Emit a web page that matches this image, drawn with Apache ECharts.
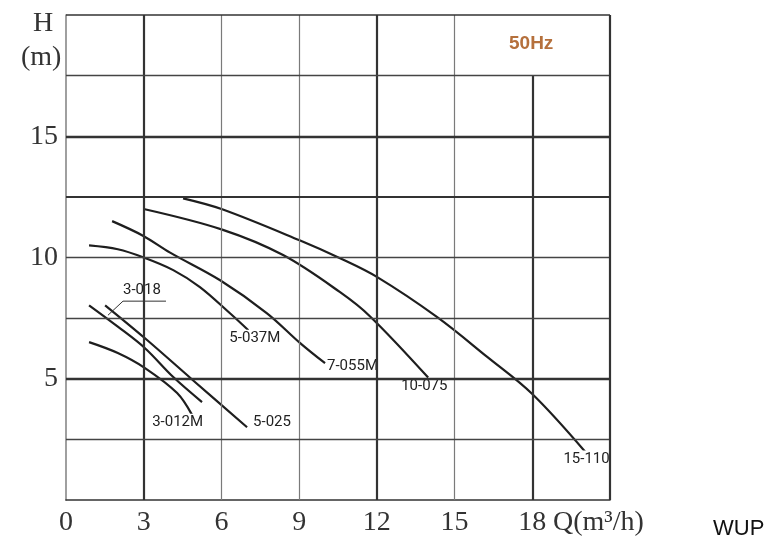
<!DOCTYPE html>
<html><head><meta charset="utf-8">
<script src="https://cdn.jsdelivr.net/npm/echarts@6/dist/echarts.min.js"></script>
<style>html,body{margin:0;padding:0;background:#fff}#c{width:772px;height:540px}</style>
</head><body><div id="c"></div>
<script>
// ---- data ----
const xTickLabels = ['0', '3', '6', '9', '12', '15', '18'];
const yTickLabels = ['5', '10', '15'];

const q_3012M = [0.89, 2.0, 3.05, 4.29, 4.87];
const h_3012M = [6.51, 6.06, 5.44, 4.41, 3.5];

const q_3018 = [0.89, 2.0, 3.05, 4.14, 5.25];
const h_3018 = [8.03, 7.15, 6.26, 5.07, 4.04];

const q_5025 = [1.51, 3.05, 4.9, 6.99];
const h_5025 = [8.03, 6.67, 4.94, 3.0];

const q_5037M = [0.89, 2.0, 3.0, 4.14, 5.17, 6.33, 7.04];
const h_5037M = [10.5, 10.34, 10.0, 9.48, 8.78, 7.7, 7.0];

const q_7055M = [1.78, 2.97, 4.02, 5.95, 7.76, 9.04, 10.0];
const h_7055M = [11.5, 10.9, 10.2, 9.06, 7.7, 6.47, 5.64];

const q_10075 = [3.0, 6.03, 8.38, 10.58, 11.74, 13.98];
const h_10075 = [12.0, 11.15, 10.1, 8.57, 7.57, 5.05];

const q_15110 = [4.52, 6.03, 9.04, 10.58, 12.0, 14.33, 16.26, 18.0, 20.05];
const h_15110 = [12.44, 11.99, 10.7, 9.97, 9.2, 7.54, 5.9, 4.37, 1.98];

// leader line for the "3-018" label
const q_leader = [1.62, 2.2, 3.86];
const h_leader = [7.62, 8.2, 8.2];

// ---- build ----
const zip = (a, b) => a.map((v, i) => [v, b[i]]);
const labelFont = { fontFamily: 'Roboto', fontSize: 15, color: '#222' };

function curve(name, q, h, offset) {
  return {
    type: 'line', name: name, data: zip(q, h), smooth: 0.35,
    symbol: 'none', silent: true, animation: false,
    lineStyle: { color: '#1e1e1e', width: 2.2 },
    endLabel: Object.assign({
      show: true, formatter: name, distance: 0, align: 'left', verticalAlign: 'middle',
      offset: offset, backgroundColor: '#fff', padding: [1, 1]
    }, labelFont)
  };
}

const gridStyles = {
  thinV: { color: '#7a7a7a', width: 1.2, type: 'solid' },
  thickV: { color: '#333', width: 2.2, type: 'solid' },
  thinH: { color: '#444', width: 1.3, type: 'solid' },
  midH: { color: '#333', width: 1.8, type: 'solid' },
  thickH: { color: '#333', width: 2.4, type: 'solid' },
  border: { color: '#333', width: 1.6, type: 'solid' },
  borderR: { color: '#333', width: 2.2, type: 'solid' }
};
const seg = (a, b, s) => [{ coord: a, lineStyle: s }, { coord: b }];
const gridLines = [
  seg([6, 0], [6, 20], gridStyles.thinV),
  seg([9, 0], [9, 20], gridStyles.thinV),
  seg([15, 0], [15, 20], gridStyles.thinV),
  seg([3, 0], [3, 20], gridStyles.thickV),
  seg([12, 0], [12, 20], gridStyles.thickV),
  seg([18, 0], [18, 17.5], gridStyles.thickV),
  seg([0, 2.5], [21, 2.5], gridStyles.thinH),
  seg([0, 7.5], [21, 7.5], gridStyles.thinH),
  seg([0, 10], [21, 10], gridStyles.thinH),
  seg([0, 17.5], [21, 17.5], gridStyles.thinH),
  seg([0, 12.5], [21, 12.5], gridStyles.midH),
  seg([0, 5], [21, 5], gridStyles.thickH),
  seg([0, 15], [21, 15], gridStyles.thickH),
  seg([0, 20], [21, 20], gridStyles.border),
  seg([21, 0], [21, 20], gridStyles.borderR)
];

const series = [
  {
    type: 'line', name: 'grid', data: [], silent: true, animation: false,
    markLine: { silent: true, symbol: ['none', 'none'], label: { show: false }, animation: false, data: gridLines }
  },
  curve('3-012M', q_3012M, h_3012M, [-41, 7]),
  curve('', q_3018, h_3018, [0, 0]),
  curve('5-025', q_5025, h_5025, [5, -5]),
  curve('5-037M', q_5037M, h_5037M, [-20, 8]),
  curve('7-055M', q_7055M, h_7055M, [1, 3]),
  curve('10-075', q_10075, h_10075, [-28, 9]),
  curve('15-110', q_15110, h_15110, [-23, 7]),
  {
    type: 'line', name: '3-018', data: zip(q_leader, h_leader), symbol: 'none', silent: true, animation: false,
    lineStyle: { color: '#333', width: 1 },
    endLabel: Object.assign({ show: true, formatter: '3-018', distance: 0, align: 'left', verticalAlign: 'middle',
      offset: [-44, -11], backgroundColor: '#fff', padding: [1, 1] }, labelFont)
  }
];
series[2].endLabel.show = false;

const serif = 'Liberation Serif';
const option = {
  backgroundColor: '#fff',
  animation: false,
  grid: { left: 66, right: 162, top: 15, bottom: 40, containLabel: false, outerBoundsMode: 'none' },
  xAxis: {
    type: 'value', min: 0, max: 21, interval: 3,
    axisLine: { show: true, lineStyle: { color: '#333', width: 1.6 } },
    axisTick: { show: false }, splitLine: { show: false },
    axisLabel: {
      margin: 9, color: '#333', fontFamily: serif, fontSize: 28,
      formatter: v => { const s = String(v); return xTickLabels.indexOf(s) >= 0 ? s : ''; }
    }
  },
  yAxis: {
    type: 'value', min: 0, max: 20, interval: 2.5,
    axisLine: { show: true, lineStyle: { color: '#888', width: 1.6 } },
    axisTick: { show: false }, splitLine: { show: false },
    axisLabel: {
      margin: 8, color: '#333', fontFamily: serif, fontSize: 28,
      formatter: v => { const s = String(v); return yTickLabels.indexOf(s) >= 0 ? s : ''; }
    }
  },
  graphic: [
    { type: 'text', left: 33, top: 10, style: { text: 'H', font: '28px "Liberation Serif"', fill: '#333' } },
    { type: 'text', left: 21, top: 44, style: { text: '(m)', font: '28px "Liberation Serif"', fill: '#333' } },
    { type: 'text', left: 553, top: 509, style: { text: 'Q(m³/h)', font: '28px "Liberation Serif"', fill: '#333' } },
    { type: 'text', left: 713, top: 518, style: { text: 'WUP', font: '22px "Liberation Sans"', fill: '#111' } },
    { type: 'text', left: 509, top: 34, style: { text: '50Hz', font: 'bold 19px "Liberation Sans"', fill: '#b5703c' } }
  ],
  series: series
};
const chart = echarts.init(document.getElementById('c'), null, { renderer: 'canvas' });
chart.setOption(option);
</script>
</body></html>
